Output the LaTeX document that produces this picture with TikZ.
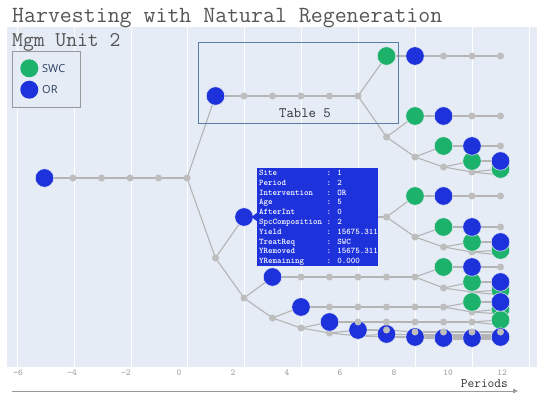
\documentclass[tikz,border=0pt]{standalone}
\usepackage{fontspec}
\newfontfamily\osans{Open Sans}
\usetikzlibrary{arrows.meta}
\definecolor{plotbg}{HTML}{E5ECF6}
\definecolor{edgegray}{HTML}{B4B4B4}
\definecolor{dotgray}{HTML}{BDBDBD}
\definecolor{swcgreen}{HTML}{1CB26B}
\definecolor{orblue}{HTML}{1E32DC}
\definecolor{titlegray}{HTML}{555555}
\definecolor{legtext}{HTML}{2A3F5F}
\definecolor{tickgray}{HTML}{9A9A9A}
\definecolor{boxblue}{HTML}{5A7CA8}
\pgfdeclarelayer{bgl}\pgfdeclarelayer{edl}\pgfsetlayers{bgl,edl,main}
\begin{document}
\begin{tikzpicture}[x=1pt,y=-1pt,
  gd/.style={circle, fill=dotgray, inner sep=0pt, minimum size=7pt},
  sw/.style={circle, fill=swcgreen, draw=plotbg, line width=0.5pt, inner sep=0pt, minimum size=18.5pt},
  orb/.style={circle, fill=orblue, draw=plotbg, line width=0.5pt, inner sep=0pt, minimum size=18.5pt},
  ed/.style={draw=edgegray, line width=1.1pt},
  tick/.style={text=tickgray, inner sep=0pt, font=\ttfamily\fontsize{9}{10}\selectfont}]
\useasboundingbox (0,0) rectangle (550,399);
\begin{pgfonlayer}{bgl}
\fill[white] (0,0) rectangle (550,399);
\fill[plotbg] (7,27) rectangle (537,367);
\foreach \gx in {17,74,131,187,244,301,358,415,472,529}
  \draw[white, line width=1pt] (\gx,27) -- (\gx,367);
\end{pgfonlayer}
% titles
\node[anchor=base west, inner sep=0pt, text=titlegray, font=\ttfamily\fontsize{23.2}{26}\selectfont] (title) at (12,22) {Harvesting with Natural Regeneration};
\node[anchor=base west, inner sep=0pt, text=titlegray, font=\ttfamily\fontsize{21}{24}\selectfont] (unit) at (12,46) {Mgm Unit 2};
% legend
\node[draw=gray!80, line width=0.7pt, fill=plotbg, anchor=north west, minimum width=68pt, minimum height=56pt, inner sep=0pt] (legend) at (12,51) {};
\node[sw, minimum size=18pt, draw=none] (legswc) at (29.3,68.3) {};
\node[orb, minimum size=18pt, draw=none] (legor) at (29.3,89.7) {};
\node[anchor=west, inner sep=0pt, text=legtext, font=\osans\fontsize{11}{13}\selectfont] (legswct) at (42,68.3) {SWC};
\node[anchor=west, inner sep=0pt, text=legtext, font=\osans\fontsize{11}{13}\selectfont] (legort) at (42,89.7) {OR};
% Table 5 box
\node[draw=boxblue, line width=0.9pt, anchor=north west, minimum width=200pt, minimum height=81pt, inner sep=0pt] (tbox) at (198,42) {};
\node[anchor=base, inner sep=0pt, text=black!80, font=\ttfamily\fontsize{14.3}{16}\selectfont] (tlabel) at (305,117) {Table 5};
% gray dots
\foreach \n/\px/\py in {s1/73/178, s2/101.5/178, s3/130/178, s4/158.5/178, j0/187/178,
  a2/244/96, a3/272.5/96, a4/301/96, a5/329.5/96, a6/358/96,
  A9/443.5/56, A10/472/56, A11/500.5/56,
  b7/386.5/137, B10/472/116, B11/500.5/116,
  c8/415/157, C11/500.5/146,
  d9/443.5/167, e10/472/172, e11/500.5/175,
  g1/215.5/258,
  p3/272.5/217, p4/301/217, p5/329.5/217, p6/358/217, p7/386.5/217,
  Q10/472/196, Q11/500.5/196,
  q8/415/237, R11/500.5/227,
  r9/443.5/247, s10/472/252, s11/500.5/255,
  g2/244/298,
  u4/301/277, u5/329.5/277, u6/358/277, u7/386.5/277, u8/415/277,
  V11/500.5/267,
  v9/443.5/288, w10/472/292, w11/500.5/295,
  g3/272.5/318,
  y5/329.5/307, y6/358/307, y7/386.5/307, y8/415/307, y9/443.5/307,
  z10/472/312, z11/500.5/314,
  g4/301/328, k11/500.5/325,
  g5/329.5/333,
  g6/358/336, g7/386.5/337, g8/415/338, g9/443.5/339, g10/472/339, g11/500.5/339,
  m8/415/335, m9/443.5/335, m10/472/335, m11/500.5/335,
  n9/443.5/337, n10/472/337, n11/500.5/337,
  o10/472/338, o11/500.5/338, pp11/500.5/338}
  \node[gd] (\n) at (\px,\py) {};
% SWC nodes
\foreach \n/\px/\py in {A7/386.5/56, B8/415/116, C9/443.5/146, D10/472/161, E11/500.5/169,
  Q8/415/196, R9/443.5/227, S10/472/242, T11/500.5/250,
  V9/443.5/267, W10/472/282, X11/500.5/290,
  Z10/472/302, ZZ11/500.5/309, KK11/500.5/320}
  \node[sw] (\n) at (\px,\py) {};
% OR nodes
\foreach \n/\px/\py in {r0/44.5/178, a1/215.5/96, A8/415/56, B9/443.5/116, C10/472/146, D11/500.5/161,
  P2/244/217, Q9/443.5/196, R10/472/227, S11/500.5/242,
  U3/272.5/277, V10/472/267, W11/500.5/282,
  Y4/301/307, Z11/500.5/302,
  K5/329.5/322,
  L6/358/330, M7/386.5/334, N8/415/337, O9/443.5/338, O10/472/338, O11/500.5/337}
  \node[orb] (\n) at (\px,\py) {};
% overlay gray dots
\foreach \n/\px/\py in {k6/358/322, k7/386.5/322, k8/415/322, k9/443.5/322, k10/472/322,
  l7/386.5/330, l8/415/332, l9/443.5/332, l10/472/332, l11/500.5/332}
  \node[gd] (\n) at (\px,\py) {};
% connectors
\begin{pgfonlayer}{edl}
\foreach \a/\b in {r0/s1, s1/s2, s2/s3, s3/s4, s4/j0,
  j0/a1, a1/a2, a2/a3, a3/a4, a4/a5, a5/a6,
  a6/A7, A7/A8, A8/A9, A9/A10, A10/A11,
  a6/b7, b7/B8, B8/B9, B9/B10, B10/B11,
  b7/c8, c8/C9, C9/C10, C10/C11,
  c8/d9, d9/D10, D10/D11, d9/e10, e10/E11, e10/e11,
  j0/g1, g1/P2, P2/p3, p3/p4, p4/p5, p5/p6, p6/p7,
  p7/Q8, Q8/Q9, Q9/Q10, Q10/Q11,
  p7/q8, q8/R9, R9/R10, R10/R11,
  q8/r9, r9/S10, S10/S11, r9/s10, s10/T11, s10/s11,
  g1/g2, g2/U3, U3/u4, u4/u5, u5/u6, u6/u7, u7/u8,
  u8/V9, V9/V10, V10/V11,
  u8/v9, v9/W10, W10/W11, v9/w10, w10/X11, w10/w11,
  g2/g3, g3/Y4, Y4/y5, y5/y6, y6/y7, y7/y8, y8/y9,
  y9/Z10, Z10/Z11, y9/z10, z10/ZZ11, z10/z11,
  g3/g4, g4/K5, K5/k6, k6/k7, k7/k8, k8/k9, k9/k10, k10/KK11, k10/k11,
  g4/g5, g5/L6, L6/l7, l7/l8, l8/l9, l9/l10, l10/l11,
  g5/g6, g6/M7, M7/m8, m8/m9, m9/m10, m10/m11,
  g6/g7, g7/N8, N8/n9, n9/n10, n10/n11,
  g7/g8, g8/O9, O9/o10, o10/o11,
  g8/g9, g9/O10, O10/pp11,
  g9/g10, g10/O11, g10/g11}
  \draw[ed] (\a.center) -- (\b.center);
\end{pgfonlayer}
% tooltip
\fill[orblue] (251.5,217) -- (258,212) -- (258,222) -- cycle;
\node[fill=orblue, anchor=north west, minimum width=121pt, minimum height=98pt, inner sep=0pt] (tipbox) at (257,168) {};
\node[anchor=north west, inner sep=0pt, text=white, font=\ttfamily\bfseries\fontsize{8.6}{9.78}\selectfont] (tiptxt) at (258.8,168.6) {\begin{tabular}{@{}l@{ : }l@{}}
Site & 1\\ Period & 2\\ Intervention & OR\\ Age & 5\\ AfterInt & 0\\ SpcComposition & 2\\ Yield & 15675.311\\ TreatReq & SWC\\ YRemoved & 15675.311\\ YRemaining & 0.000
\end{tabular}};
% axis
\foreach \v/\tx in {-6/18, -4/72, -2/126, 0/179, 2/233, 4/287, 6/340, 8/394, 10/448, 12/502}
  \node[tick] (t\v) at (\tx,373) {\ifnum\v<0 −\number-\v\else\v\fi};
\node[anchor=base east, inner sep=0pt, text=black!80, font=\ttfamily\fontsize{13}{15}\selectfont] (per) at (508,387) {Periods};
\coordinate (ax0) at (12,391);
\coordinate (ax1) at (518,391);
\draw[tickgray, line width=0.8pt, -{Triangle[length=5pt,width=4.5pt]}] (ax0) -- (ax1);
\end{tikzpicture}
\end{document}
